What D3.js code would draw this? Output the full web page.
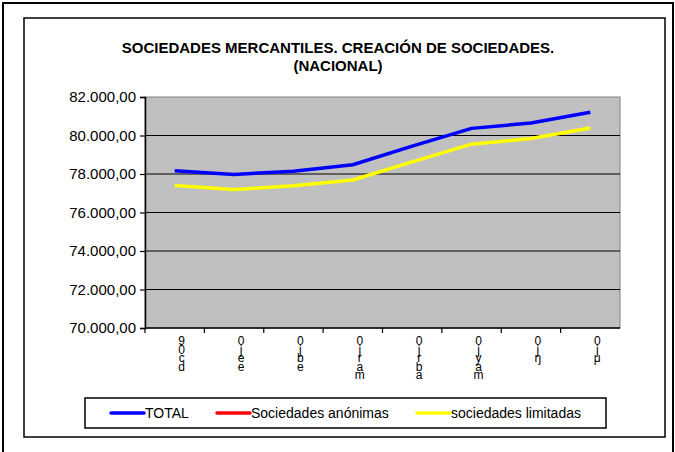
<!DOCTYPE html>
<html>
<head>
<meta charset="utf-8">
<script src="https://cdn.jsdelivr.net/npm/d3@7"></script>
<style>
  body { margin: 0; background: #fff; }
  text { font-family: "Liberation Sans", Arial, sans-serif; }
</style>
</head>
<body>
<div id="chart"></div>
<script>
// Data
const categories = ["c1", "c2", "c3", "c4", "c5", "c6", "c7", "c8"];
// x labels are drawn as stacked characters, as in the source image
const xLabels = ["90cd", "0jee", "0jbe", "0jram", "0jrba", "0jyam", "0jŋ", "0jμ"];
const total = [78170, 77980, 78140, 78480, 79450, 80370, 80650, 81210];
const anonimas = []; // not visible in the plotted range
const limitadas = [77400, 77190, 77390, 77690, 78630, 79550, 79840, 80390];
const yTicks = [70000, 72000, 74000, 76000, 78000, 80000, 82000];

const series = [
  { name: "TOTAL", values: total, color: "#0000FF" },
  { name: "Sociedades anónimas", values: anonimas, color: "#FF0000" },
  { name: "sociedades limitadas", values: limitadas, color: "#FFFF00" }
];

const width = 675, height = 452;
const plot = { left: 145, right: 620, top: 97, bottom: 328 };

const svg = d3.select("#chart").append("svg")
    .attr("width", width)
    .attr("height", height);

// outer frame + chart frame
svg.append("rect")
    .attr("x", 3).attr("y", 3)
    .attr("width", 670).attr("height", 460)
    .attr("fill", "none").attr("stroke", "#000").attr("stroke-width", 2);
svg.append("rect")
    .attr("x", 24).attr("y", 18)
    .attr("width", 641).attr("height", 419)
    .attr("fill", "#fff").attr("stroke", "#000").attr("stroke-width", 1.5);

// title
const title = svg.append("text")
    .attr("x", 338).attr("text-anchor", "middle")
    .style("font-weight", "bold").style("font-size", "15px");
title.append("tspan").attr("x", 338).attr("y", 53)
    .text("SOCIEDADES MERCANTILES. CREACIÓN DE SOCIEDADES.");
title.append("tspan").attr("x", 338).attr("y", 71)
    .text("(NACIONAL)");

// scales
const x = d3.scaleBand().domain(categories).range([plot.left, plot.right]);
const y = d3.scaleLinear().domain([70000, 82000]).range([plot.bottom, plot.top]);

// plot area
svg.append("rect")
    .attr("x", plot.left).attr("y", plot.top)
    .attr("width", plot.right - plot.left).attr("height", plot.bottom - plot.top)
    .attr("fill", "#C0C0C0").attr("stroke", "#808080").attr("stroke-width", 1);

// gridlines
svg.append("g").selectAll("line")
    .data(yTicks.filter(d => d > 70000 && d < 82000))
    .join("line")
    .attr("x1", plot.left).attr("x2", plot.right)
    .attr("y1", d => y(d)).attr("y2", d => y(d))
    .attr("stroke", "#000").attr("stroke-width", 1.2);

// y axis
const fmt = d3.formatLocale({ decimal: ",", thousands: ".", grouping: [3] }).format(",.2f");
const yAxis = svg.append("g")
    .attr("transform", `translate(${plot.left},0)`)
    .call(d3.axisLeft(y).tickValues(yTicks).tickFormat(fmt).tickSize(5).tickPadding(4));
yAxis.select(".domain").attr("stroke", "#000").attr("stroke-width", 1.5);
yAxis.selectAll(".tick line").attr("stroke", "#000").attr("stroke-width", 1.2);
yAxis.selectAll(".tick text")
    .style("font-family", '"Liberation Sans", Arial, sans-serif')
    .style("font-size", "15px").attr("fill", "#000");

// x axis line + ticks at band edges
svg.append("line")
    .attr("x1", plot.left).attr("x2", plot.right)
    .attr("y1", plot.bottom).attr("y2", plot.bottom)
    .attr("stroke", "#000").attr("stroke-width", 1.5);
svg.append("g").selectAll("line")
    .data(categories)
    .join("line")
    .attr("x1", d => x(d)).attr("x2", d => x(d))
    .attr("y1", plot.bottom).attr("y2", plot.bottom + 5)
    .attr("stroke", "#000").attr("stroke-width", 1.2);

// x labels (stacked characters)
const xl = svg.append("g").selectAll("text")
    .data(categories)
    .join("text")
    .attr("text-anchor", "middle")
    .style("font-size", "12px");
xl.each(function(d, i) {
    const t = d3.select(this);
    const cx = x(d) + x.bandwidth() / 2 + 7;
    Array.from(xLabels[i]).forEach((ch, j) => {
        t.append("tspan").attr("x", cx).attr("y", 345 + j * 8.5).text(ch);
    });
});

// lines
const line = d3.line()
    .x((d, i) => x(categories[i]) + x.bandwidth() / 2)
    .y(d => y(d));
svg.append("g").selectAll("path")
    .data(series.filter(s => s.values.length))
    .join("path")
    .attr("d", s => line(s.values))
    .attr("fill", "none")
    .attr("stroke", s => s.color)
    .attr("stroke-width", 3.5)
    .attr("stroke-linejoin", "round");

// legend
const legend = svg.append("g");
legend.append("rect")
    .attr("x", 85).attr("y", 398).attr("width", 521).attr("height", 30)
    .attr("fill", "#fff").attr("stroke", "#000").attr("stroke-width", 1.5);
const legendX = [111, 217, 417];
const li = legend.selectAll("g.item")
    .data(series)
    .join("g")
    .attr("class", "item")
    .attr("transform", (d, i) => `translate(${legendX[i]},413)`);
li.append("line")
    .attr("x1", 0).attr("x2", 33).attr("y1", 0).attr("y2", 0)
    .attr("stroke", d => d.color).attr("stroke-width", 3.5)
    .attr("stroke-linecap", "round");
li.append("text")
    .attr("x", 34).attr("y", 5)
    .style("font-size", "14px")
    .text(d => d.name);
</script>
</body>
</html>
